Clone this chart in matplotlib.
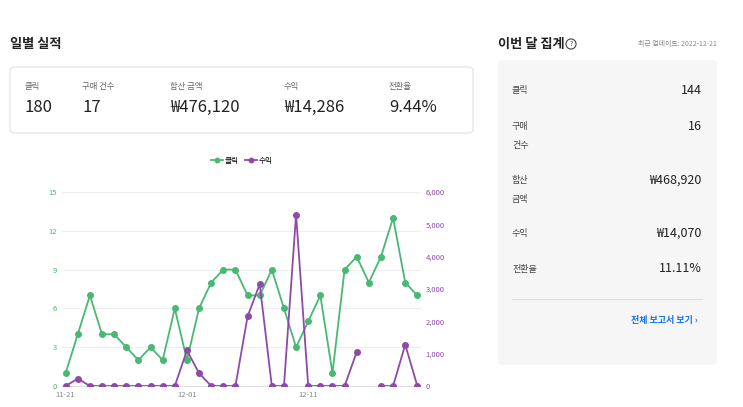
import numpy as np
import matplotlib.pyplot as plt
from matplotlib.patches import FancyBboxPatch

plt.rcParams['font.family'] = ['Noto Sans CJK KR', 'Noto Sans CJK JP', 'DejaVu Sans']

days = [f"11-{d}" for d in range(21, 31)] + [f"12-{d:02d}" for d in range(1, 21)]
clicks = [1, 4, 7, 4, 4, 3, 2, 3, 2, 6, 2, 6, 8, 9, 9, 7, 7, 9, 6, 3, 5, 7, 1, 9, 10, 8, 10, 13, 8, 7]
revenue = [0, 230, 0, 0, 0, 0, 0, 0, 0, 0, 1100, 400, 0, 0, 0, 2150, 3150, 0, 0, 5300,
           0, 0, 0, 0, 1050, np.nan, 0, 0, 1280, 0]

summary_labels = ["클릭", "구매 건수", "합산 금액", "수익", "전환율"]
summary_values = ["180", "17", "₩476,120", "₩14,286", "9.44%"]
month_labels = ["클릭", "구매\n건수", "합산\n금액", "수익", "전환율"]
month_values = ["144", "16", "₩468,920", "₩14,070", "11.11%"]

W, H = 743, 407
fig = plt.figure(figsize=(W / 100, H / 100), dpi=100)
fig.patch.set_facecolor('white')

def px(x, y):
    return x / W, 1 - y / H

green = '#48b873'
purple = '#8e4aa8'

# titles
fig.text(*px(10, 44), "일별 실적", fontsize=9.5, weight='bold', va='center', color='#222')
fig.text(*px(498, 44), "이번 달 집계", fontsize=9.5, weight='bold', va='center', color='#222')
fig.text(*px(571, 44), "?", fontsize=5, ha='center', va='center', color='#444',
         bbox=dict(boxstyle='circle,pad=0.15', fc='white', ec='#444', lw=0.8))
fig.text(*px(717, 44), "최근 업데이트: 2022-12-21", fontsize=5, ha='right', va='center', color='#888')

# summary card
card = FancyBboxPatch(px(10, 133), 463 / W, 66 / H, boxstyle="round,pad=0,rounding_size=0.008",
                      transform=fig.transFigure, facecolor='white', edgecolor='#e2e2e2', lw=0.8)
fig.patches.append(card)
xs = [25, 82, 170, 284, 389]
for x, lab, val in zip(xs, summary_labels, summary_values):
    fig.text(*px(x, 86), lab, fontsize=6, va='center', color='#666')
    fig.text(*px(x, 107), val, fontsize=12, va='center', color='#222')

# month panel
panel = FancyBboxPatch(px(498, 365), 219 / W, 305 / H, boxstyle="round,pad=0,rounding_size=0.008",
                       transform=fig.transFigure, facecolor='#f6f6f6', edgecolor='none')
fig.patches.append(panel)
ys = [90, 126, 180, 233, 269]
for y, lab, val in zip(ys, month_labels, month_values):
    fig.text(*px(512, y - 4), lab, fontsize=6.5, va='top', color='#444', linespacing=2.4)
    fig.text(*px(702, y), val, fontsize=9, ha='right', va='center', color='#222')
fig.add_artist(plt.Line2D([512 / W, 702 / W], [1 - 299 / H] * 2, color='#dddddd', lw=0.8))
fig.text(*px(698, 320), "전체 보고서 보기 ›", fontsize=6.5, ha='right', va='center',
         color='#1a73e8', weight='bold')

# chart
ax = fig.add_axes([62 / W, 1 - 386 / H, (421 - 62) / W, (386 - 192) / H])
x = np.arange(len(days))
ax.plot(x, clicks, color=green, marker='o', ms=4, lw=1.3, label='클릭', zorder=3)
ax.set_ylim(0, 15)
ax.set_yticks([0, 3, 6, 9, 12, 15])
ax.set_xlim(-0.3, len(days) - 0.7)
ax.set_xticks([0, 10, 20])
ax.set_xticklabels([days[0], days[10], days[20]])
ax.grid(axis='y', color='#eeeeee', lw=0.8)
ax.tick_params(axis='y', colors=green, labelsize=5.5, length=0)
ax.tick_params(axis='x', colors='#888', labelsize=5.5, length=0)
for s in ['top', 'right', 'left']:
    ax.spines[s].set_visible(False)
ax.spines['bottom'].set_color('#dddddd')

ax2 = ax.twinx()
ax2.plot(x, revenue, color=purple, marker='o', ms=4, lw=1.3, label='수익', zorder=3)
ax2.set_ylim(0, 6000)
ax2.set_yticks(range(0, 6001, 1000))
ax2.set_yticklabels([f"{v:,}" for v in range(0, 6001, 1000)])
ax2.tick_params(axis='y', colors=purple, labelsize=5.5, length=0)
for s in ax2.spines.values():
    s.set_visible(False)

h1, l1 = ax.get_legend_handles_labels()
h2, l2 = ax2.get_legend_handles_labels()
fig.legend(h1 + h2, l1 + l2, loc='center', bbox_to_anchor=px(242, 161), ncol=2, frameon=False,
           fontsize=5.5, handlelength=1.5, columnspacing=0.8, handletextpad=0.3, markerscale=0.8)

fig.savefig('out.png', dpi=100)
